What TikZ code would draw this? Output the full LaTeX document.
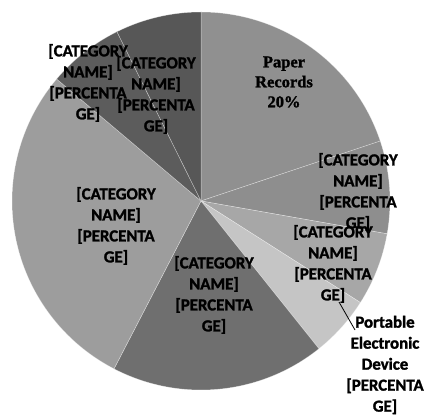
\documentclass[tikz,border=0pt]{standalone}
\usepackage{fontspec}
\usetikzlibrary{calc}
\setmainfont{Carlito}[BoldFont={Carlito Bold}, BoldFeatures={FakeBold=1.6}]
\newfontfamily\serifbold{Liberation Serif Bold}[FakeBold=1.4]
\definecolor{cPaper}{HTML}{909090}
\definecolor{cTwo}{HTML}{8E8E8E}
\definecolor{cThree}{HTML}{A7A7A7}
\definecolor{cFour}{HTML}{C5C5C5}
\definecolor{cFive}{HTML}{6F6F6F}
\definecolor{cSix}{HTML}{9D9D9D}
\definecolor{cSeven}{HTML}{5C5C5C}
\definecolor{cEight}{HTML}{575757}
\newcommand\catlabel{{[}CATEGORY\\NAME]\\{[}PERCENTA\\GE]}
\begin{document}
\begin{tikzpicture}[x=1pt,y=1pt,
  lbl/.style={font=\fontsize{16.8}{21}\selectfont\bfseries, align=center, inner sep=0pt, text=black},
  sliceedge/.style={draw=white, draw opacity=0.45, line width=0.5pt}]
\useasboundingbox (0,0) rectangle (427,417);
\coordinate (c) at (201,216);
\def\R{189}
\newcommand\pieslice[3]{%
  \fill[#3, sliceedge] (c) -- ($(c)+(#1:\R)$) arc[start angle=#1, end angle=#2, radius=\R] -- cycle;}
\pieslice{90}{18.5}{cPaper}
\pieslice{18.5}{-10}{cTwo}
\pieslice{-10}{-32.5}{cThree}
\pieslice{-32.5}{-51.4}{cFour}
\pieslice{-51.4}{-117.4}{cFive}
\pieslice{-117.4}{-220.2}{cSix}
\pieslice{139.8}{116.4}{cSeven}
\pieslice{116.4}{90}{cEight}

\node[lbl, font=\fontsize{16.5}{20}\selectfont\serifbold] (paper) at (284,335) {Paper\\Records\\20\%};
\node[lbl] (two) at (358,225) {\catlabel};
\node[lbl] (three) at (333,153) {\catlabel};
\node[lbl] (portable) at (385,52) {Portable\\Electronic\\Device\\{[}PERCENTA\\GE]};
\node[lbl] (five) at (214,122) {\catlabel};
\node[lbl] (six) at (116,191) {\catlabel};
\node[lbl] (seven) at (88,334) {\catlabel};
\node[lbl] (eight) at (156,322) {\catlabel};

\coordinate (lstart) at (339,115);
\coordinate (lend) at (355,87);
\draw[black, line width=0.8pt] (lstart) -- (lend);
\end{tikzpicture}
\end{document}
